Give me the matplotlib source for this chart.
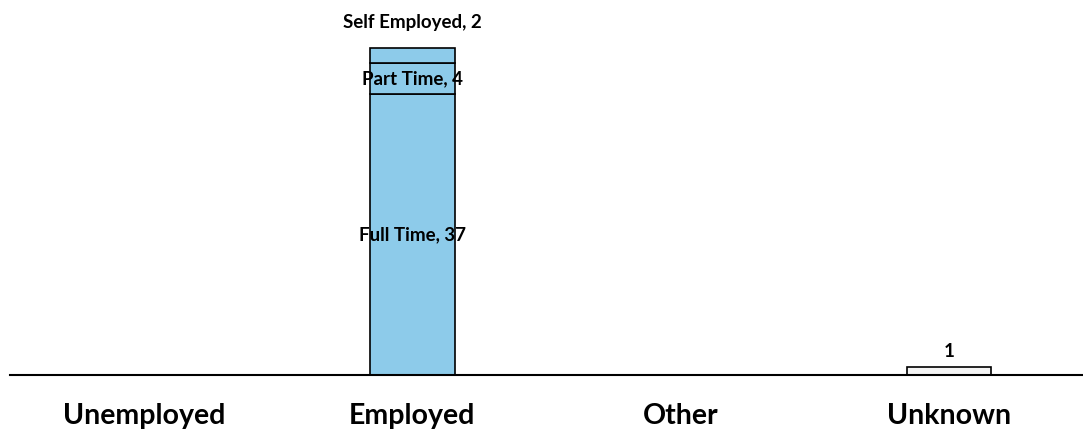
import matplotlib.pyplot as plt

categories = ["Unemployed", "Employed", "Other", "Unknown"]
full_time = [0, 37, 0, 0]
part_time = [0, 4, 0, 0]
self_employed = [0, 2, 0, 0]
unknown = [0, 0, 0, 1]

plt.rcParams['font.family'] = ['Lato', 'DejaVu Sans']

fig = plt.figure(figsize=(10.83, 4.32), dpi=100)
ax = fig.add_axes([10 / 1083, 57 / 432, 1 - 10 / 1083, 375 / 432])

x = range(len(categories))
blue = '#8dcbea'
w = 0.315

ax.bar(x, full_time, width=w, color=blue, edgecolor='black', linewidth=1.2)
ax.bar(x, part_time, width=w, bottom=full_time, color=blue, edgecolor='black', linewidth=1.2)
bottom3 = [a + b for a, b in zip(full_time, part_time)]
ax.bar(x, self_employed, width=w, bottom=bottom3, color=blue, edgecolor='black', linewidth=1.2)
ax.bar(x, unknown, width=w, color='#f4f4f4', edgecolor='black', linewidth=1.2)

# labels on the employed stack
i = categories.index("Employed")
ax.text(i, full_time[i] / 2, "Full Time, %d" % full_time[i], ha='center', va='center',
        fontsize=13.5, fontweight='bold')
ax.text(i, full_time[i] + part_time[i] / 2, "Part Time, %d" % part_time[i], ha='center', va='center',
        fontsize=13.5, fontweight='bold')
top = bottom3[i] + self_employed[i]
ax.text(i, top + 3.4, "Self Employed, %d" % self_employed[i], ha='center', va='center',
        fontsize=13.5, fontweight='bold')

j = categories.index("Unknown")
ax.text(j, unknown[j] + 2.1, "%d" % unknown[j], ha='center', va='center',
        fontsize=13.5, fontweight='bold')

ax.set_xlim(-0.5, len(categories) - 0.5)
ax.set_ylim(0, 375 / 7.6)
ax.set_xticks(list(x))
ax.set_xticklabels(categories, fontsize=20.5, fontweight='bold')
ax.tick_params(axis='x', length=0, pad=20)
ax.set_yticks([])
for s in ['top', 'right', 'left']:
    ax.spines[s].set_visible(False)
ax.spines['bottom'].set_linewidth(1.5)

fig.savefig('out.png', dpi=100)
